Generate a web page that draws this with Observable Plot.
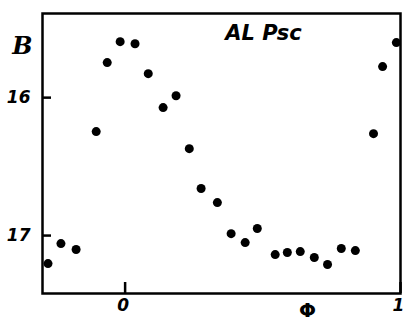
<!DOCTYPE html>
<html>
<head>
<meta charset="utf-8">
<script src="https://cdn.jsdelivr.net/npm/d3@7"></script>
<script src="https://cdn.jsdelivr.net/npm/@observablehq/plot@0.6"></script>
<style>
  html, body { margin: 0; padding: 0; background: white; }
</style>
</head>
<body>
<div id="chart"></div>
<script>
const phase = [-0.280, -0.233, -0.178, -0.105, -0.065, -0.018, 0.036, 0.084, 0.138, 0.185,
               0.233, 0.276, 0.335, 0.385, 0.436, 0.480, 0.545, 0.589, 0.636, 0.687,
               0.735, 0.785, 0.836, 0.902, 0.935, 0.985];
const mag = [17.203, 17.058, 17.101, 16.246, 15.746, 15.594, 15.609, 15.826, 16.072, 15.986,
             16.370, 16.659, 16.761, 16.986, 17.051, 16.949, 17.138, 17.123, 17.116, 17.159,
             17.210, 17.094, 17.109, 16.261, 15.775, 15.601];
const yTicks = [16, 17];
const xTicks = [0, 1];
const titleText = ["AL Psc"];
const yLabel = ["B"];
const xLabel = ["Φ"];

const data = phase.map((p, i) => ({phase: p, mag: mag[i]}));

const chart = Plot.plot({
  width: 403,
  height: 322,
  marginLeft: 42,
  marginRight: 3,
  marginTop: 13,
  marginBottom: 29,
  style: {background: "white", fontFamily: "DejaVu Sans", color: "black"},
  x: {domain: [-0.30, 1.0]},
  y: {domain: [15.39, 17.42], reverse: true},
  marks: [
    Plot.frame({stroke: "black", strokeWidth: 2.5}),
    Plot.tickY(yTicks, {y: d => d, insetRight: 349, stroke: "black", strokeWidth: 2.5}),
    Plot.tickX(xTicks, {x: d => d, insetTop: 269, stroke: "black", strokeWidth: 2.5}),
    Plot.axisY(yTicks, {anchor: "left", tickSize: 0, tickPadding: 12, tickFormat: d => String(d),
      fontSize: 17, fontWeight: "bold", fontStyle: "italic", label: null}),
    Plot.axisX(xTicks, {anchor: "bottom", tickSize: 0, tickPadding: 5, tickFormat: d => String(d),
      dx: -2, fontSize: 17, fontWeight: "bold", fontStyle: "italic", label: null}),
    Plot.dot(data, {x: "phase", y: "mag", r: 4.5, fill: "black", stroke: "none"}),
    Plot.text(titleText, {frameAnchor: "top", dx: 42, dy: 20, fontSize: 21,
      fontStyle: "italic", fontWeight: "bold", lineAnchor: "middle"}),
    Plot.text(yLabel, {frameAnchor: "top-left", dx: -20, dy: 33, fontSize: 24, textAnchor: "middle",
      fontFamily: "DejaVu Serif", fontStyle: "italic", fontWeight: "bold", lineAnchor: "middle"}),
    Plot.text(xLabel, {frameAnchor: "bottom-right", dx: -93, dy: 17, fontSize: 20, textAnchor: "middle",
      fontWeight: "bold", lineAnchor: "middle"})
  ]
});
document.getElementById("chart").appendChild(chart);
</script>
</body>
</html>
